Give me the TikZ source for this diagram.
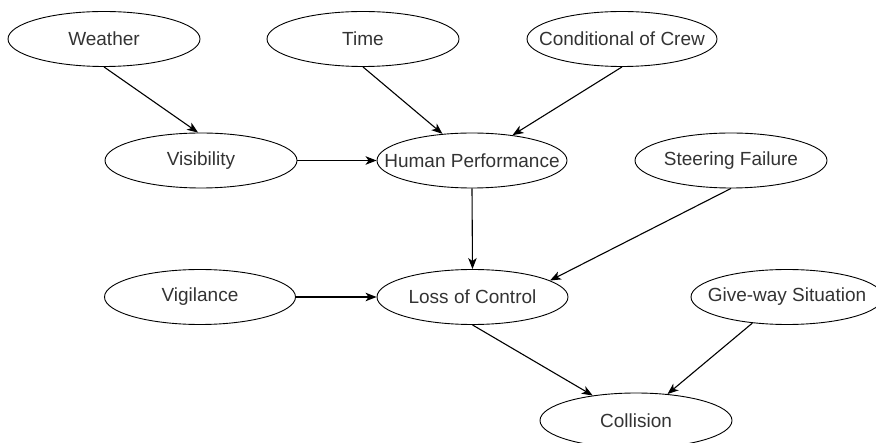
\documentclass[tikz,border=0pt]{standalone}
\usepackage{fontspec}
\setmainfont{Liberation Sans}
\usetikzlibrary{shapes.geometric,arrows.meta}
\definecolor{txt}{HTML}{333333}
\begin{document}
\begin{tikzpicture}[x=1pt,y=-1pt,
  oval/.style={ellipse,draw=black,line width=0.9pt,inner sep=0pt,
    minimum width=192pt,minimum height=55pt,text=txt,
    font=\fontsize{19}{19}\selectfont},
  link/.style={draw=black,line width=1.1pt,
    -{Stealth[length=11pt,width=8.5pt,inset=3pt]}}]
\useasboundingbox (0,0) rectangle (876,443);
\begin{scope}
\clip (0,0) rectangle (876,443);
% variables of the network
\node[oval] (weather) at (104,39)    {\makebox[0pt]{Weather}};
\node[oval] (time)    at (363,39)    {\makebox[0pt]{Time}};
\node[oval,minimum width=190pt] (crew) at (622,39) {\makebox[0pt]{Conditional of Crew}};
\node[oval] (vis)     at (201,160.5) {\makebox[0pt]{Visibility}};
\node[oval,minimum width=190pt] (hp) at (472,160.5) {\makebox[0pt]{Human Performance}};
\node[oval] (steer)   at (731,160.5) {\makebox[0pt]{Steering Failure}};
\node[oval,minimum width=191pt] (vig) at (200,297) {\makebox[0pt]{Vigilance}};
\node[oval,minimum width=191pt] (loc) at (472.5,297) {\makebox[0pt]{Loss of Control}};
\node[oval] (give)    at (787,297)   {\makebox[0pt]{Give-way Situation}};
\node[oval] (coll)    at (636,420.5) {\makebox[0pt]{Collision}};
\end{scope}
% dependencies
\draw[link] (weather.south) -- (vis.96);
\draw[link] (time.south) -- (hp.138.5);
\draw[link] (crew.south) -- (hp.32);
\draw[link] (vis.east) -- (hp.west);
\draw[link] (hp.south) -- (loc.north);
\draw[link] (steer.south) -- (loc.12);
\draw[link] (vig.east) -- (loc.west);
\draw[link] (loc.south) -- (coll.150);
\draw[link] (give.217) -- (coll.40);
\end{tikzpicture}
\end{document}
